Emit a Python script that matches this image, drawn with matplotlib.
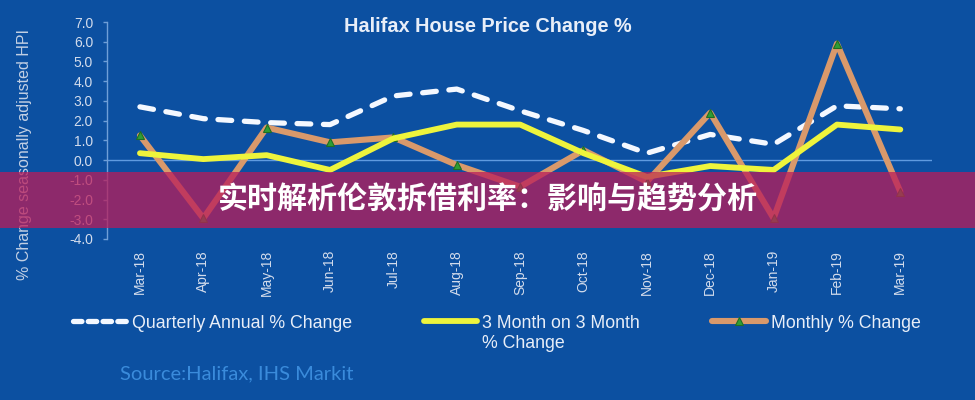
import matplotlib
matplotlib.use("Agg")
import matplotlib.pyplot as plt
from matplotlib.lines import Line2D
from matplotlib.patches import Rectangle

months = ["Mar-18", "Apr-18", "May-18", "Jun-18", "Jul-18", "Aug-18", "Sep-18",
          "Oct-18", "Nov-18", "Dec-18", "Jan-19", "Feb-19", "Mar-19"]
quarterly = [2.7, 2.1, 1.9, 1.8, 3.25, 3.6, 2.5, 1.5, 0.35, 1.3, 0.8, 2.75, 2.6]
three_month = [0.35, 0.05, 0.25, -0.5, 1.1, 1.8, 1.8, 0.35, -0.85, -0.3, -0.5, 1.8, 1.55]
monthly = [1.25, -2.95, 1.65, 0.9, 1.15, -0.25, -1.35, 0.5, -1.1, 2.4, -2.95, 5.9, -1.6]
yticks = [7.0, 6.0, 5.0, 4.0, 3.0, 2.0, 1.0, 0.0, -1.0, -2.0, -3.0, -4.0]

BG = "#0c50a1"
W, H = 975, 400

plt.rcParams["font.family"] = ["Liberation Sans", "DejaVu Sans"]
fig = plt.figure(figsize=(W / 100, H / 100), dpi=100, facecolor=BG)
ax = fig.add_axes([107 / W, 1 - 239 / H, 825 / W, 217 / H], facecolor=BG)

x = list(range(len(months)))
ax.axhline(0, color="#5f9be0", lw=1.0, zorder=1)
ax.plot(x, quarterly, color="#f4f8ff", lw=3.8, dashes=(2.6, 2.4),
        dash_capstyle="round", solid_capstyle="round", zorder=2,
        label="Quarterly Annual % Change")
ax.plot(x, monthly, color="#d9996b", lw=4.4, solid_capstyle="round", zorder=3,
        marker="^", markersize=5.5, markerfacecolor="#2e9d34",
        markeredgecolor="#1f6e22", markeredgewidth=0.8, label="Monthly % Change")
ax.plot(x, three_month, color="#eef43c", lw=4.2, solid_capstyle="round", zorder=4,
        label="3 Month on 3 Month")

ax.set_xlim(-0.52, 12.5)
ax.set_ylim(-4, 7)
ax.set_yticks(yticks)
ax.set_yticklabels([f"{v:.1f}" for v in yticks])
ax.set_xticks(x)
ax.set_xticklabels(months, rotation=90)
for s in ["top", "right", "bottom"]:
    ax.spines[s].set_visible(False)
ax.spines["left"].set_color("#6f9fd8")
ax.spines["left"].set_linewidth(1.0)
ax.tick_params(axis="y", colors="#6f9fd8", length=3, width=1, pad=7,
               labelcolor="#d3dcec", labelsize=10)
ax.tick_params(axis="x", length=0, pad=8, labelcolor="#d3dcec", labelsize=10)

fig.text(488 / W, 1 - 26 / H, "Halifax House Price Change %", ha="center",
         va="center", fontsize=14.3, fontweight="bold", color="#e8eef8")
fig.text(25 / W, 1 - 155 / H, "% Change seasonally adjusted HPI", rotation=90,
         ha="center", va="center", fontsize=11.5, color="#c3d0e4")

h = [Line2D([], [], color="#f4f8ff", lw=3.8, dashes=(1.6, 1.2), dash_capstyle="round"),
     Line2D([], [], color="#eef43c", lw=4.2, solid_capstyle="round"),
     Line2D([], [], color="#d9996b", lw=4.4, solid_capstyle="round", marker="^",
            markersize=5.5, markerfacecolor="#2e9d34", markeredgecolor="#1f6e22",
            markeredgewidth=0.8)]
labels = ["Quarterly Annual % Change", "3 Month on 3 Month", "Monthly % Change"]
leg = fig.legend(h, labels, loc="center left", bbox_to_anchor=(73 / W, 1 - 323 / H),
                 ncol=3, frameon=False, fontsize=12.8, handlelength=3.0,
                 handletextpad=0.3, columnspacing=4.05, borderpad=0, borderaxespad=0,
                 labelcolor="#e8eef8")
fig.text(482 / W, 1 - 344 / H, "% Change", ha="left", va="center",
         fontsize=12.8, color="#e8eef8")

fig.text(120 / W, 1 - 374 / H, "Source:Halifax, IHS Markit", ha="left", va="center",
         fontsize=14.5, color="#3a8bdb", family=["Lato", "DejaVu Sans"])

band = Rectangle((0, 1 - 228 / H), 1, 56 / H, transform=fig.transFigure,
                 facecolor="#ba1d5a", alpha=0.75, edgecolor="none", zorder=10)
fig.add_artist(band)
fig.text(0.5, 1 - 200 / H, "实时解析伦敦拆借利率：影响与趋势分析", ha="center", va="center",
         fontsize=21.6, fontweight="heavy", color="white", zorder=11,
         family=["Noto Sans CJK SC", "DejaVu Sans"])

fig.savefig("out.png", dpi=100, facecolor=BG)
